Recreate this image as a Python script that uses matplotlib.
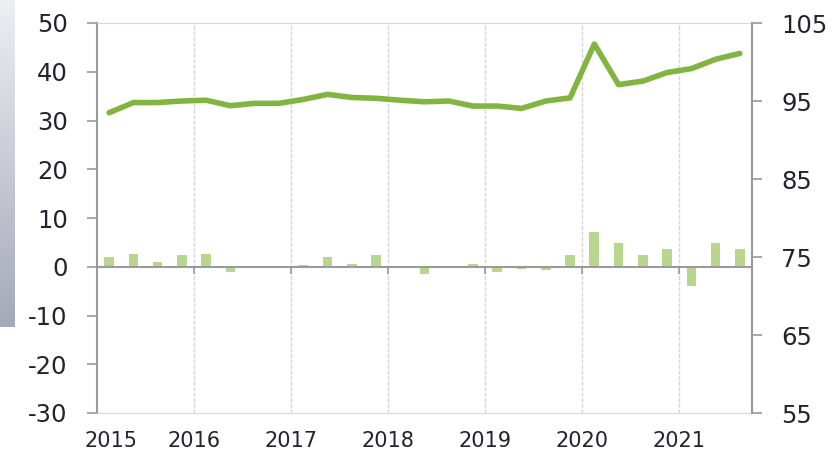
import numpy as np
import matplotlib
matplotlib.use("Agg")
import matplotlib.pyplot as plt
import matplotlib.transforms as mtransforms

plt.rcParams["axes.unicode_minus"] = False

# quarterly data, 2015Q1 .. 2021Q3
quarters = np.arange(2015, 2021.75, 0.25) + 0.125
bar_values = [2.0, 2.7, 1.0, 2.4,
              2.7, -1.0, 0.0, 0.0,
              0.4, 1.9, 0.5, 2.4,
              0.0, -1.4, 0.0, 0.5,
              -1.0, -0.5, -0.6, 2.4,
              7.2, 4.8, 2.4, 3.6,
              -4.0, 4.8, 3.6]
line_values = [93.5, 94.8, 94.8, 95.0,
               95.1, 94.4, 94.7, 94.7,
               95.2, 95.85, 95.45, 95.35,
               95.1, 94.9, 95.0, 94.35,
               94.35, 94.05, 95.0, 95.4,
               102.3, 97.1, 97.55, 98.65,
               99.15, 100.35, 101.1]
years = [2015, 2016, 2017, 2018, 2019, 2020, 2021]
left_ticks = [-30, -20, -10, 0, 10, 20, 30, 40, 50]
right_ticks = [55, 65, 75, 85, 95, 105]

bar_color = "#b9d68e"
line_color = "#82b440"
axis_gray = "#9a9a9a"
text_color = "#23232e"

fig = plt.figure(figsize=(8.36, 4.53), dpi=100)

# grey gradient strip on the left edge of the screenshot
strip = fig.add_axes([0, 1 - 327 / 453, 15 / 836, 327 / 453])
grad = np.linspace(0, 1, 100).reshape(-1, 1)
strip.imshow(grad, aspect="auto", cmap=matplotlib.colors.LinearSegmentedColormap.from_list(
    "g", ["#eceef2", "#a6a9b8"]))
strip.axis("off")

ax = fig.add_axes([97 / 836, 1 - 413 / 453, (752 - 97) / 836, (413 - 23) / 453])
ax.bar(quarters, bar_values, width=0.1, color=bar_color, zorder=2)
ax.set_xlim(2015, 2021.75)
ax.set_ylim(-30, 50)
ax.set_yticks(left_ticks)
ax.set_xticks(years)
ax.set_xticklabels([str(y) for y in years])
ax.tick_params(axis="x", length=0, pad=13, labelsize=15, labelcolor=text_color)
ax.tick_params(axis="y", length=7, width=1.2, color=axis_gray, labelsize=17.5,
               labelcolor=text_color, pad=14)

# first year label sits a little right of the axis corner
first = ax.get_xticklabels()[0]
first.set_transform(first.get_transform() + mtransforms.ScaledTranslation(0.14, 0, fig.dpi_scale_trans))

for x in years[1:]:
    ax.axvline(x, color="#d4d6dc", lw=1, ls=(0, (3, 1)), zorder=0)
ax.axhline(0, color=axis_gray, lw=1.5, zorder=3)

ax.spines["left"].set_color(axis_gray)
ax.spines["left"].set_linewidth(1.5)
ax.spines["top"].set_color("#d8d8dc")
ax.spines["top"].set_linestyle((0, (2, 1)))
ax.spines["bottom"].set_color("#d8d8dc")
ax.spines["bottom"].set_linestyle((0, (2, 1)))
ax.spines["right"].set_visible(False)

# small year ticks on the zero line
zero_axis = ax.secondary_xaxis(30 / 80)
zero_axis.set_xticks(years[1:])
zero_axis.set_xticklabels([])
zero_axis.tick_params(direction="out", length=5, color=axis_gray, width=1.2)
zero_axis.spines["bottom"].set_visible(False)

ax2 = ax.twinx()
ax2.plot(quarters, line_values, color=line_color, lw=4, solid_joinstyle="round",
         solid_capstyle="round", zorder=4)
ax2.set_ylim(55, 105)
ax2.set_yticks(right_ticks)
ax2.tick_params(axis="y", length=7, width=1.2, color=axis_gray, labelsize=17.5,
                labelcolor=text_color, pad=14)
ax2.spines["right"].set_color(axis_gray)
ax2.spines["right"].set_linewidth(1.5)
for s in ["left", "top", "bottom"]:
    ax2.spines[s].set_visible(False)

fig.savefig("out.png", dpi=100)
